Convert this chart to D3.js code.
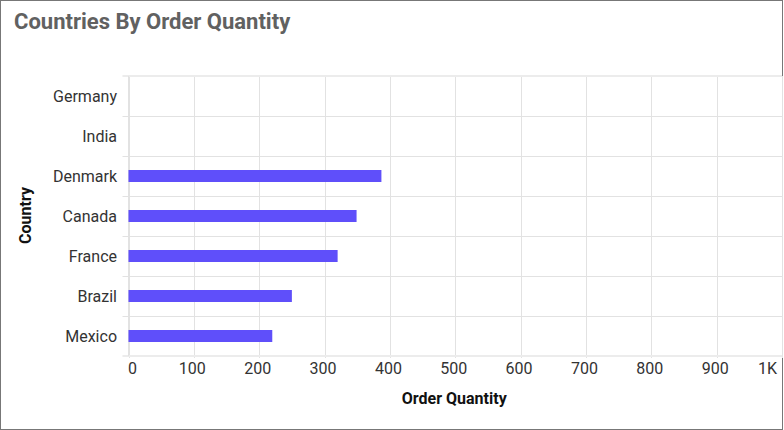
<!DOCTYPE html>
<html><head><meta charset="utf-8">
<script src="https://cdn.jsdelivr.net/npm/d3@7"></script>
<style>
html,body{margin:0;padding:0;background:#fff;}
svg{display:block;font-family:Roboto,sans-serif;}
</style></head>
<body>
<svg id="c" width="784" height="430"></svg>
<script>
const categories = ["Germany","India","Denmark","Canada","France","Brazil","Mexico"];
const values = [null, null, 387, 349, 320, 250, 220];
const xTicks = [0,100,200,300,400,500,600,700,800,900,1000];
const xTickLabels = ["0","100","200","300","400","500","600","700","800","900","1K"];
const title = "Countries By Order Quantity";
const xTitle = "Order Quantity";
const yTitle = "Country";

const svg = d3.select("#c");
svg.append("rect").attr("x",0.5).attr("y",0.5).attr("width",782).attr("height",429)
  .attr("fill","#fff").attr("stroke","#777");

const m = {left:128.5, right:782, top:76, bottom:356};
const x = d3.scaleLinear().domain([0,1000]).range([m.left, m.right]);
const y = d3.scaleBand().domain(categories).range([m.top, m.bottom]).paddingInner(0.7).paddingOuter(0.35);
const yb = d3.scaleBand().domain(categories).range([m.top, m.bottom]);

svg.append("text").attr("x",14).attr("y",28.5).attr("font-size",22).attr("font-weight",700)
  .attr("fill","#616161").text(title);

const g = svg.append("g");
g.selectAll(".vg").data(xTicks).join("line")
  .attr("x1",d=>Math.round(x(d))+0.5).attr("x2",d=>Math.round(x(d))+0.5)
  .attr("y1",m.top).attr("y2",m.bottom+2).attr("stroke","#e2e2e2").attr("stroke-width",1);
const bounds = categories.map(c=>yb(c)).concat([m.bottom]);
g.selectAll(".hg").data(bounds).join("line")
  .attr("x1",m.left-6).attr("x2",m.right)
  .attr("y1",(d,i)=> (i===0||i===bounds.length-1)? d : d+0.5)
  .attr("y2",(d,i)=> (i===0||i===bounds.length-1)? d : d+0.5)
  .attr("stroke",(d,i)=> (i===0||i===bounds.length-1)? "#ececec":"#e2e2e2")
  .attr("stroke-width",(d,i)=> (i===0||i===bounds.length-1)? 2:1);
g.append("line").attr("x1",128.5).attr("x2",128.5).attr("y1",m.top).attr("y2",m.bottom)
  .attr("stroke","#e2e2e2");

const data = categories.map((c,i)=>({c, v:values[i]})).filter(d=>d.v!=null);
g.selectAll(".bar").data(data).join("rect")
  .attr("x",x(0)).attr("y",d=>y(d.c)).attr("width",d=>x(d.v)-x(0)).attr("height",y.bandwidth())
  .attr("fill","#5f4ffa");

g.selectAll(".yl").data(categories).join("text")
  .attr("x",117).attr("y",d=>yb(d)+yb.bandwidth()/2).attr("dy","0.35em")
  .attr("text-anchor","end").attr("font-size",16).attr("fill","#333").text(d=>d);

g.selectAll(".xl").data(xTicks).join("text")
  .attr("x",(d,i)=> i===0? x(d)-0.5 : (i===xTicks.length-1? x(d)-5 : x(d)-1.5))
  .attr("y",373.5)
  .attr("text-anchor",(d,i)=> i===0? "start" : (i===xTicks.length-1? "end":"middle"))
  .attr("font-size",16).attr("fill","#333").text((d,i)=>xTickLabels[i]);

svg.append("text").attr("x",(m.left+m.right)/2 - 1).attr("y",403.5).attr("text-anchor","middle")
  .attr("font-size",16).attr("font-weight",700).attr("fill","#111").text(xTitle);
svg.append("text").attr("transform",`translate(30.5,${(m.top+m.bottom)/2 - 0.5}) rotate(-90)`)
  .attr("text-anchor","middle").attr("font-size",16).attr("font-weight",700).attr("fill","#111").text(yTitle);
</script>
</body></html>
